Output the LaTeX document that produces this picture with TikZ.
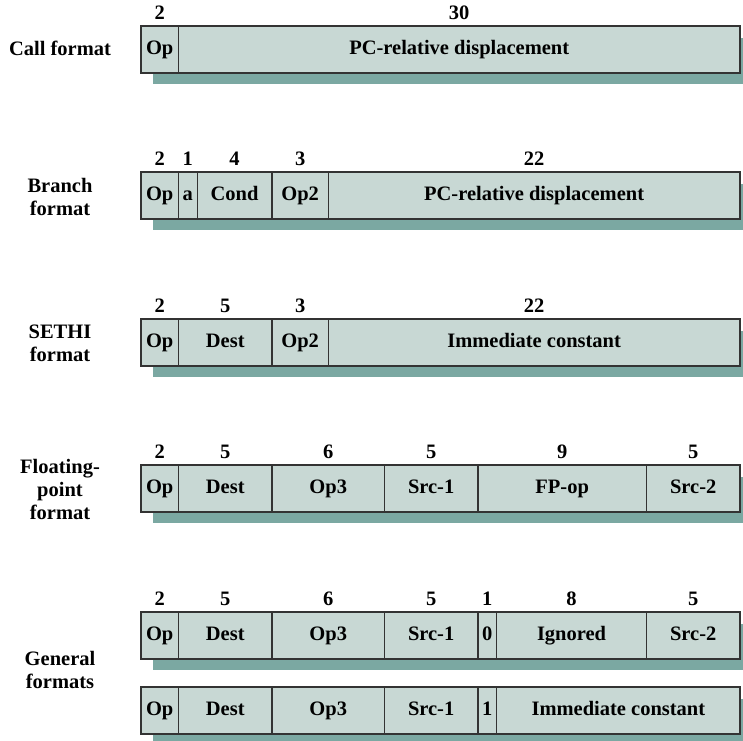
\documentclass[tikz,border=0pt]{standalone}
\usepackage{fontspec}
\setmainfont{Liberation Serif}
\definecolor{boxc}{HTML}{C8D8D4}
\definecolor{shadc}{HTML}{7BA8A2}
\definecolor{linec}{HTML}{333333}
\newcommand\fsz{\fontsize{20.5}{23}\selectfont\bfseries}
\newcommand\fld[5]{\node[field, minimum width={#3*18.72pt}] (#1) at ({141+#2*18.72},#4) {#5};}
\newcommand\bits[2]{\node[num] at ([yshift=7pt]#1.north) {#2};}
\begin{document}
\begin{tikzpicture}[x=1pt,y=-1pt,
  field/.style={draw=linec, fill=boxc, line width=1.2pt, minimum height=47pt,
    text height=13pt, text depth=4pt,
    inner sep=0pt, outer sep=0pt, anchor=north west, font=\fsz},
  num/.style={anchor=base, font=\fsz, inner sep=0pt},
  lbl/.style={align=center, font=\fsz, inner sep=0pt},
  shadow/.style={fill=shadc}]
\useasboundingbox (0,0) rectangle (743,740);
% shadows
\fill[shadow] (153,38) rectangle (752,84);
\fill[shadow] (153,184) rectangle (752,230);
\fill[shadow] (153,331) rectangle (752,377);
\fill[shadow] (153,477) rectangle (752,523);
\fill[shadow] (153,624) rectangle (752,670);
\fill[shadow] (153,699) rectangle (752,745);
% Call format
\node[lbl] (lcall) at (60,48) {Call format};
\fld{c1}{0}{2}{26}{Op}
\fld{c2}{2}{30}{26}{PC-relative displacement}
\bits{c1}{2}\bits{c2}{30}
% Branch format
\node[lbl] (lbr) at (60,197) {Branch\\format};
\fld{b1}{0}{2}{172}{Op}
\fld{b2}{2}{1}{172}{a}
\fld{b3}{3}{4}{172}{Cond}
\fld{b4}{7}{3}{172}{Op2}
\fld{b5}{10}{22}{172}{PC-relative displacement}
\bits{b1}{2}\bits{b2}{1}\bits{b3}{4}\bits{b4}{3}\bits{b5}{22}
% SETHI format
\node[lbl] (lse) at (60,343) {SETHI\\format};
\fld{s1}{0}{2}{319}{Op}
\fld{s2}{2}{5}{319}{Dest}
\fld{s3}{7}{3}{319}{Op2}
\fld{s4}{10}{22}{319}{Immediate constant}
\bits{s1}{2}\bits{s2}{5}\bits{s3}{3}\bits{s4}{22}
% Floating-point format
\node[lbl] (lfp) at (60,489) {Floating-\\point\\format};
\fld{f1}{0}{2}{465}{Op}
\fld{f2}{2}{5}{465}{Dest}
\fld{f3}{7}{6}{465}{Op3}
\fld{f4}{13}{5}{465}{Src-1}
\fld{f5}{18}{9}{465}{FP-op}
\fld{f6}{27}{5}{465}{Src-2}
\bits{f1}{2}\bits{f2}{5}\bits{f3}{6}\bits{f4}{5}\bits{f5}{9}\bits{f6}{5}
% General formats
\node[lbl] (lgen) at (60,670) {General\\formats};
\fld{g1}{0}{2}{612}{Op}
\fld{g2}{2}{5}{612}{Dest}
\fld{g3}{7}{6}{612}{Op3}
\fld{g4}{13}{5}{612}{Src-1}
\fld{g5}{18}{1}{612}{0}
\fld{g6}{19}{8}{612}{Ignored}
\fld{g7}{27}{5}{612}{Src-2}
\bits{g1}{2}\bits{g2}{5}\bits{g3}{6}\bits{g4}{5}\bits{g5}{1}\bits{g6}{8}\bits{g7}{5}
\fld{h1}{0}{2}{687}{Op}
\fld{h2}{2}{5}{687}{Dest}
\fld{h3}{7}{6}{687}{Op3}
\fld{h4}{13}{5}{687}{Src-1}
\fld{h5}{18}{1}{687}{1}
\fld{h6}{19}{13}{687}{Immediate constant}
\end{tikzpicture}
\end{document}
